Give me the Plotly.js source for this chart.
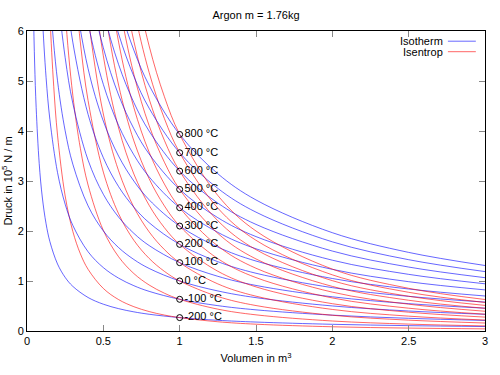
<!DOCTYPE html>
<html>
<head>
<meta charset="utf-8">
<script src="https://cdn.plot.ly/plotly-3.0.1.min.js"></script>
<style>html,body{margin:0;padding:0;background:#fff;}#chart{width:500px;height:375px;}</style>
</head>
<body>
<div id="chart"></div>
<script>
// Volume samples (m^3)
const volumeIsotherm = [0.04, 0.05, 0.06, 0.08, 0.1, 0.125, 0.15, 0.2, 0.25, 0.3, 0.4, 0.5, 0.6, 0.7, 0.8, 1, 1.25, 1.5, 2, 2.5, 3];
const volumeIsentrop = [0.1, 0.125, 0.15, 0.175, 0.2, 0.25, 0.3, 0.35, 0.4, 0.5, 0.6, 0.7, 0.8, 0.9, 1, 1.25, 1.5, 2, 2.5, 3];

// Temperature labels and pressure at V = 1 m^3 (10^5 N/m^2)
const tempLabels = ['-200 °C', '-100 °C', '0 °C', '100 °C', '200 °C', '300 °C', '400 °C', '500 °C', '600 °C', '700 °C', '800 °C'];
const labelVolume = [1, 1, 1, 1, 1, 1, 1, 1, 1, 1, 1];
const labelPressure = [0.268, 0.634, 1.001, 1.367, 1.733, 2.099, 2.466, 2.832, 3.198, 3.565, 3.931];

// Isotherm pressures (10^5 N/m^2), one row per temperature, on volumeIsotherm
const isothermPressure = [
  [6.70, 5.36, 4.47, 3.35, 2.68, 2.144, 1.787, 1.34, 1.072, 0.893, 0.67, 0.536, 0.447, 0.383, 0.335, 0.268, 0.214, 0.179, 0.134, 0.107, 0.089],
  [15.85, 12.68, 10.57, 7.93, 6.34, 5.07, 4.227, 3.17, 2.536, 2.113, 1.585, 1.268, 1.057, 0.906, 0.793, 0.634, 0.507, 0.423, 0.317, 0.254, 0.211],
  [null, null, 16.68, 12.51, 10.01, 8.01, 6.673, 5.005, 4.004, 3.337, 2.503, 2.002, 1.668, 1.43, 1.251, 1.001, 0.801, 0.667, 0.501, 0.4, 0.334],
  [null, null, null, 17.09, 13.67, 10.94, 9.113, 6.835, 5.468, 4.557, 3.418, 2.734, 2.278, 1.953, 1.709, 1.367, 1.094, 0.911, 0.684, 0.547, 0.456],
  [null, null, null, null, 17.33, 13.86, 11.55, 8.665, 6.932, 5.777, 4.333, 3.466, 2.888, 2.476, 2.166, 1.733, 1.386, 1.155, 0.867, 0.693, 0.578],
  [null, null, null, null, null, 16.79, 13.99, 10.5, 8.396, 6.997, 5.248, 4.198, 3.498, 2.999, 2.624, 2.099, 1.679, 1.399, 1.05, 0.84, 0.7],
  [null, null, null, null, null, 19.73, 16.44, 12.33, 9.864, 8.22, 6.165, 4.932, 4.11, 3.523, 3.083, 2.466, 1.973, 1.644, 1.233, 0.986, 0.822],
  [null, null, null, null, null, null, 18.88, 14.16, 11.33, 9.44, 7.08, 5.664, 4.72, 4.046, 3.54, 2.832, 2.266, 1.888, 1.416, 1.133, 0.944],
  [null, null, null, null, null, null, null, 15.99, 12.79, 10.66, 7.995, 6.396, 5.33, 4.569, 3.998, 3.198, 2.558, 2.132, 1.599, 1.279, 1.066],
  [null, null, null, null, null, null, null, 17.83, 14.26, 11.88, 8.913, 7.13, 5.942, 5.093, 4.456, 3.565, 2.852, 2.377, 1.783, 1.426, 1.188],
  [null, null, null, null, null, null, null, 19.66, 15.72, 13.1, 9.828, 7.862, 6.552, 5.616, 4.914, 3.931, 3.145, 2.621, 1.966, 1.572, 1.31]
];

// Isentrope pressures (10^5 N/m^2), one row per temperature, on volumeIsentrop
const isentropPressure = [
  [12.44, 8.576, 6.329, 4.895, 3.918, 2.701, 1.993, 1.542, 1.234, 0.851, 0.628, 0.486, 0.389, 0.319, 0.268, 0.185, 0.136, 0.0844, 0.0582, 0.0429],
  [null, null, 14.97, 11.58, 9.269, 6.39, 4.716, 3.647, 2.92, 2.013, 1.485, 1.149, 0.92, 0.756, 0.634, 0.437, 0.323, 0.2, 0.138, 0.102],
  [null, null, null, 18.28, 14.63, 10.09, 7.445, 5.759, 4.61, 3.178, 2.345, 1.814, 1.452, 1.193, 1.001, 0.69, 0.509, 0.315, 0.217, 0.16],
  [null, null, null, null, 19.99, 13.78, 10.17, 7.864, 6.295, 4.34, 3.203, 2.477, 1.983, 1.629, 1.367, 0.942, 0.696, 0.431, 0.297, 0.219],
  [null, null, null, null, null, 17.47, 12.89, 9.97, 7.98, 5.502, 4.06, 3.14, 2.514, 2.066, 1.733, 1.195, 0.882, 0.546, 0.376, 0.278],
  [null, null, null, null, null, null, 15.61, 12.08, 9.666, 6.664, 4.918, 3.803, 3.045, 2.502, 2.099, 1.447, 1.068, 0.661, 0.456, 0.336],
  [null, null, null, null, null, null, 18.34, 14.19, 11.36, 7.829, 5.778, 4.468, 3.577, 2.939, 2.466, 1.7, 1.255, 0.777, 0.536, 0.395],
  [null, null, null, null, null, null, null, 16.29, 13.04, 8.991, 6.635, 5.132, 4.108, 3.376, 2.832, 1.952, 1.441, 0.892, 0.615, 0.454],
  [null, null, null, null, null, null, null, 18.4, 14.73, 10.15, 7.493, 5.795, 4.639, 3.812, 3.198, 2.205, 1.627, 1.007, 0.695, 0.512],
  [null, null, null, null, null, null, null, null, 16.42, 11.32, 8.352, 6.46, 5.171, 4.249, 3.565, 2.458, 1.814, 1.123, 0.774, 0.571],
  [null, null, null, null, null, null, null, null, 18.1, 12.48, 9.21, 7.123, 5.702, 4.686, 3.931, 2.71, 2.0, 1.238, 0.854, 0.63]
];

const FONT = 'Liberation Sans, Arial, sans-serif';
const traces = [];
for (let i = 0; i < tempLabels.length; i++) {
  traces.push({
    x: volumeIsotherm, y: isothermPressure[i], type: 'scatter', mode: 'lines',
    line: {color: 'rgb(0,0,255)', width: 1, shape: 'spline', simplify: false},
    opacity: 0.6, showlegend: false, hoverinfo: 'skip', name: 'Isotherm'
  });
  traces.push({
    x: volumeIsentrop, y: isentropPressure[i], type: 'scatter', mode: 'lines',
    line: {color: 'rgb(255,0,0)', width: 1, shape: 'spline', simplify: false},
    opacity: 0.6, showlegend: false, hoverinfo: 'skip', name: 'Isentrop'
  });
}
traces.push({
  x: labelVolume, y: labelPressure, text: tempLabels, type: 'scatter', mode: 'markers+text',
  marker: {symbol: 'circle-open', size: 6, color: '#000', line: {width: 1, color: '#000'}},
  textposition: 'middle right', textfont: {family: FONT, size: 11, color: '#000'},
  showlegend: false, hoverinfo: 'skip'
});

const axisCommon = {
  showgrid: false, zeroline: false, showline: true, linecolor: '#000', linewidth: 1,
  mirror: 'ticks', ticks: 'inside', ticklen: 6, tickcolor: '#888', tickwidth: 1,
  tickfont: {family: FONT, size: 11, color: '#000'}, automargin: false
};

const layout = {
  width: 500, height: 375,
  margin: {l: 27, r: 15, t: 31, b: 44},
  paper_bgcolor: '#fff', plot_bgcolor: '#fff',
  font: {family: FONT, size: 11, color: '#000'},
  title: {text: 'Argon m = 1.76kg', x: 0.512, xanchor: 'center', y: 0.96, yanchor: 'middle', font: {family: FONT, size: 11, color: '#000'}},
  xaxis: Object.assign({}, axisCommon, {range: [0, 3], tick0: 0, dtick: 0.5,
    title: {text: 'Volumen in m<sup>3</sup>', font: {family: FONT, size: 11, color: '#000'}, standoff: 8}}),
  yaxis: Object.assign({}, axisCommon, {range: [0, 6], tick0: 0, dtick: 1,
    title: {text: 'Druck in 10<sup>5</sup> N / m', font: {family: FONT, size: 11, color: '#000'}, standoff: 4}}),
  showlegend: false,
  annotations: [
    {xref: 'paper', yref: 'paper', x: 0.912, y: 0.966, xanchor: 'right', yanchor: 'middle', text: 'Isotherm', showarrow: false, font: {family: FONT, size: 11, color: '#000'}},
    {xref: 'paper', yref: 'paper', x: 0.912, y: 0.931, xanchor: 'right', yanchor: 'middle', text: 'Isentrop', showarrow: false, font: {family: FONT, size: 11, color: '#000'}}
  ],
  shapes: [
    {type: 'line', xref: 'paper', yref: 'paper', x0: 0.919, x1: 0.980, y0: 0.966, y1: 0.966, line: {color: 'rgba(0,0,255,0.6)', width: 1}},
    {type: 'line', xref: 'paper', yref: 'paper', x0: 0.919, x1: 0.980, y0: 0.931, y1: 0.931, line: {color: 'rgba(255,0,0,0.6)', width: 1}}
  ]
};

Plotly.newPlot('chart', traces, layout, {staticPlot: true, displayModeBar: false});
</script>
</body>
</html>
